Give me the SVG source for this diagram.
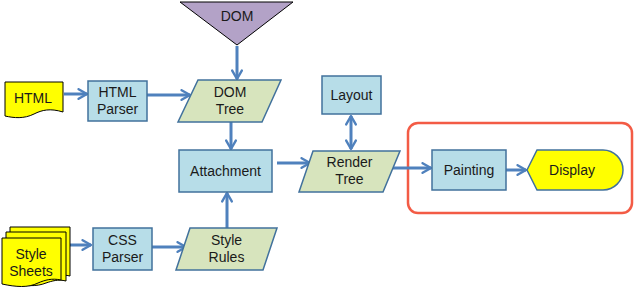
<svg xmlns="http://www.w3.org/2000/svg" width="634" height="289" viewBox="0 0 634 289">
  <style>
    text { font-family: "Liberation Sans", Arial, sans-serif; font-size: 14px; fill: #1a1a1a; text-anchor: middle; }
    .proc { fill: #b7dde8; stroke: #41719c; stroke-width: 1.5; }
    .data { fill: #d7e4bd; stroke: #41719c; stroke-width: 1.5; }
    .doc { fill: #ffff00; stroke: #000; stroke-width: 1; }
    .conn { stroke: #4f81bd; stroke-width: 3; fill: none; marker-end: url(#arrow); }
  </style>
  <defs>
    <marker id="arrow" viewBox="0 0 10 10" refX="8" refY="5" markerWidth="4" markerHeight="4" orient="auto-start-reverse" markerUnits="strokeWidth">
      <path d="M1,1 L8,5 L1,9" fill="none" stroke="#4f81bd" stroke-width="2" stroke-linecap="round" stroke-linejoin="round"/>
    </marker>
  </defs>

  <!-- highlight frame around painting stage -->
  <rect x="408" y="123" width="224" height="90" rx="10" fill="none" stroke="#f35b45" stroke-width="2.5"/>

  <g id="connectors">
    <line class="conn" x1="64" y1="94" x2="87" y2="94"/>
    <line class="conn" x1="147" y1="95" x2="190" y2="95"/>
    <line class="conn" x1="237" y1="46" x2="237" y2="79"/>
    <line class="conn" x1="231" y1="122" x2="231" y2="149"/>
    <line class="conn" x1="227" y1="228" x2="227" y2="193"/>
    <line class="conn" x1="277" y1="163" x2="310" y2="163"/>
    <line class="conn" x1="351" y1="116" x2="351" y2="149" marker-start="url(#arrow)"/>
    <line class="conn" x1="390" y1="168" x2="431" y2="168"/>
    <line class="conn" x1="506" y1="170" x2="526" y2="170"/>
    <line class="conn" x1="70" y1="245" x2="91" y2="245"/>
    <line class="conn" x1="152" y1="247" x2="186" y2="247"/>
  </g>

  <g id="dom">
    <polygon points="180,2 293,2 237,45" fill="#b3a2c7" stroke="#000" stroke-width="1"/>
    <text x="237" y="21">DOM</text>
  </g>

  <g id="html">
    <path class="doc" d="M5,82 H63 V112 C50,108 42,110 34,114 C24,119 14,118 5,116 Z"/>
    <text x="33" y="103">HTML</text>
  </g>

  <g id="html-parser">
    <rect class="proc" x="88" y="81" width="59" height="40"/>
    <text x="117.5" y="97">HTML</text>
    <text x="117.5" y="114">Parser</text>
  </g>

  <g id="dom-tree">
    <polygon class="data" points="198,80 281,80 262,122 178,122"/>
    <text x="230" y="97">DOM</text>
    <text x="230" y="114">Tree</text>
  </g>

  <g id="attachment">
    <rect class="proc" x="179" y="150" width="93" height="42"/>
    <text x="225.5" y="176">Attachment</text>
  </g>

  <g id="layout">
    <rect class="proc" x="322" y="76" width="59" height="38"/>
    <text x="351.5" y="100">Layout</text>
  </g>

  <g id="render-tree">
    <polygon class="data" points="313,151 400,151 383,192 299,192"/>
    <text x="349.5" y="167">Render</text>
    <text x="349.5" y="184">Tree</text>
  </g>

  <g id="style-sheets">
    <path class="doc" d="M10,227 H70 V276 C62,274 56,276 50,278 C40,282 30,281 10,278 Z"/>
    <path class="doc" d="M6,232 H66 V281 C58,279 52,281 46,283 C36,287 26,286 6,283 Z"/>
    <path class="doc" d="M2,238 H61 V280 C52,278 45,280 38,283 C28,288 16,287 2,284 Z"/>
    <text x="31" y="259">Style</text>
    <text x="31" y="276">Sheets</text>
  </g>

  <g id="css-parser">
    <rect class="proc" x="93" y="228" width="59" height="42"/>
    <text x="122.5" y="245">CSS</text>
    <text x="122.5" y="262">Parser</text>
  </g>

  <g id="style-rules">
    <polygon class="data" points="190,228 277,228 263,270 176,270"/>
    <text x="226.5" y="245">Style</text>
    <text x="226.5" y="262">Rules</text>
  </g>

  <g id="painting">
    <rect class="proc" x="432" y="150" width="74" height="40"/>
    <text x="469" y="175">Painting</text>
  </g>

  <g id="display">
    <path d="M527,170 L537,150 H603 A20,20 0 0 1 603,190 H537 Z" fill="#ffff00" stroke="#41719c" stroke-width="1.5"/>
    <text x="572" y="175">Display</text>
  </g>
</svg>
